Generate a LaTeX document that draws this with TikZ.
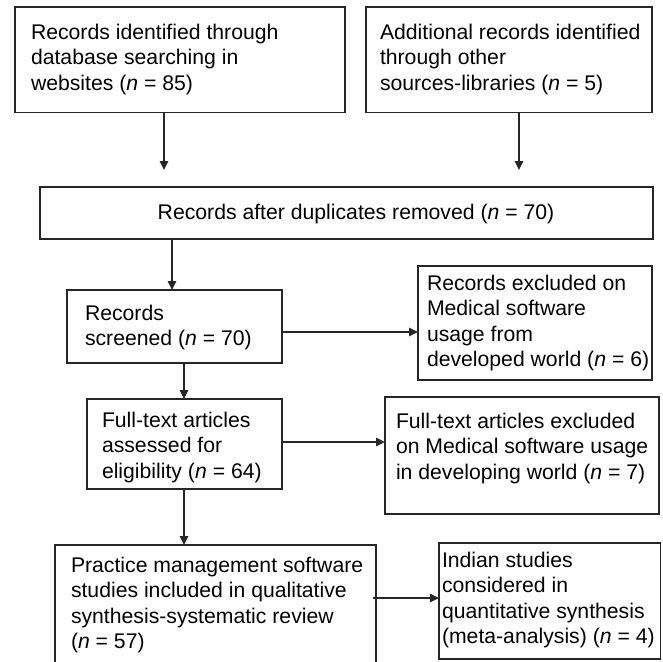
\documentclass[tikz,border=0pt]{standalone}
\usepackage{fontspec}
\setmainfont{Liberation Sans}
\usetikzlibrary{arrows.meta,calc}
\definecolor{ln}{HTML}{262626}
\begin{document}
\begin{tikzpicture}[x=1pt,y=-1pt,
  box/.style={draw=ln, line width=1.4pt, inner sep=0pt, outer sep=0pt, anchor=north west},
  thickbox/.style={box, line width=2.6pt},
  txt/.style={inner sep=0pt, outer sep=0pt, anchor=north west, align=left, font=\fontsize{21.2}{25.5}\selectfont},
  arr/.style={draw=ln, line width=1.4pt, -{Triangle[length=9pt,width=8.5pt]}},
]
\useasboundingbox (0,0) rectangle (662,662);
% boxes
\node[box, minimum width=330pt, minimum height=105.5pt] (b1) at (15,7) {};
\node[box, minimum width=286pt, minimum height=105.5pt] (b2) at (366,7) {};
\node[thickbox, minimum width=613pt, minimum height=52pt] (b3) at (40,187) {};
\node[box, minimum width=215pt, minimum height=73pt] (scr) at (67,290) {};
\node[box, minimum width=234pt, minimum height=114pt] (ex1) at (418,266) {};
\node[box, minimum width=195pt, minimum height=90pt] (ft) at (87,399) {};
\node[box, minimum width=274pt, minimum height=117pt] (ex2) at (385,397) {};
\node[box, minimum width=321pt, minimum height=140pt] (pr) at (55,545) {};
\node[box, minimum width=221.5pt, minimum height=116pt] (ind) at (439,543) {};
% texts
\node[txt] (t1) at (31,21.15) {\strut Records identified through\\database searching in\\websites (\textit{n} = 85)};
\node[txt] (t2) at (380,21.15) {\strut Additional records identified\\through other\\sources-libraries (\textit{n} = 5)};
\node[txt, anchor=base] (t3) at (356,219) {Records after duplicates removed (\textit{n} = 70)};
\node[txt] (t4) at (85,302.15) {\strut Records\\screened (\textit{n} = 70)};
\node[txt] (t5) at (427,272.15) {\strut Records excluded on\\Medical software\\usage from\\developed world (\textit{n} = 6)};
\node[txt] (t6) at (102,409.15) {\strut Full-text articles\\assessed for\\eligibility (\textit{n} = 64)};
\node[txt] (t7) at (396,410.15) {\strut Full-text articles excluded\\on Medical software usage\\in developing world (\textit{n} = 7)};
\node[txt] (t8) at (71,554.15) {\strut Practice management software\\studies included in qualitative\\synthesis-systematic review\\(\textit{n} = 57)};
\node[txt] (t9) at (442,549.15) {\strut Indian studies\\considered in\\quantitative synthesis\\(meta-analysis) (\textit{n} = 4)};
% connector guides
\coordinate (x1) at (164,0);
\coordinate (x2) at (519,0);
\coordinate (x3) at (172,0);
\coordinate (x4) at (184,0);
\coordinate (e12) at (0,170);
\coordinate (y6) at (0,332);
\coordinate (y7) at (0,442);
\coordinate (y8) at (0,598);
% connectors
\draw[arr] (b1.south -| x1) -- (e12 -| x1);
\draw[arr] (b2.south -| x2) -- (e12 -| x2);
\draw[arr] (b3.south -| x3) -- (scr.north -| x3);
\draw[arr] (scr.south -| x4) -- (ft.north -| x4);
\draw[arr] (ft.south -| x4) -- (pr.north -| x4);
\draw[arr] (scr.east |- y6) -- (ex1.west |- y6);
\draw[arr] (ft.east |- y7) -- (ex2.west |- y7);
\draw[arr] ([xshift=-3pt]pr.east |- y8) -- (ind.west |- y8);
\end{tikzpicture}
\end{document}
